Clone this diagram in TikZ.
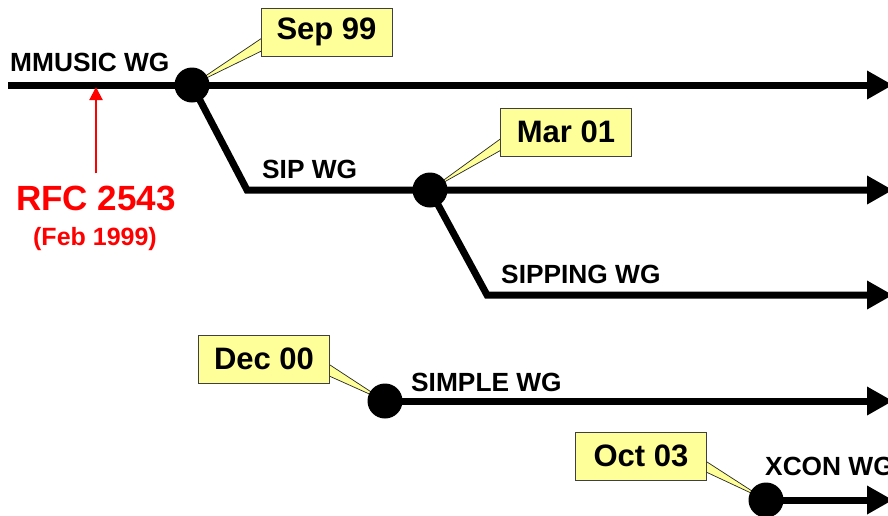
\documentclass[tikz,border=0pt]{standalone}
\usepackage{fontspec}
\setmainfont{Liberation Sans}
\usetikzlibrary{arrows.meta,calc,backgrounds}
\definecolor{callfill}{HTML}{FFFF99}
\tikzset{
  x=1pt, y=-1pt,
  wg/.style={line width=7pt, line join=miter, -{Triangle[length=26pt,width=27pt]}},
  dot/.style={circle, fill=black, minimum size=35pt, inner sep=0pt},
  datebox/.style={draw=black!75, line width=0.9pt, fill=callfill, minimum width=131pt, minimum height=48pt, inner sep=0pt, font=\fontsize{31}{36}\selectfont\bfseries},
  wedge/.style={draw=black!85, line width=0.7pt, fill=callfill, line join=miter},
  lbl/.style={anchor=base west, inner sep=0pt, font=\fontsize{26.3}{31}\selectfont\bfseries},
}
\begin{document}
\begin{tikzpicture}
\useasboundingbox (0,0) rectangle (888,515);
% dots
\node[dot] (n1) at (192,85) {};
\node[dot] (n2) at (430,190) {};
\node[dot] (n3) at (385,401) {};
\node[dot] (n4) at (766,500) {};
% coordinates
\coordinate (m0) at (8,85);
\coordinate (a1) at (893,85);
\coordinate (c1) at (247,190);
\coordinate (a2) at (893,190);
\coordinate (c2) at (487,295);
\coordinate (a3) at (893,295);
\coordinate (a4) at (893,401);
\coordinate (a5) at (893,500);
% boxes
\node[datebox] (b1) at (326.5,32) {Sep 99};
\node[datebox] (b2) at (566,132) {Mar 01};
\node[datebox] (b3) at (264,359) {Dec 00};
\node[datebox] (b4) at (641,456) {Oct 03};
\begin{pgfonlayer}{background}
\draw[wg] (m0) -- (a1);
\draw[wg] (n1.center) -- (c1) -- (a2);
\draw[wg] (n2.center) -- (c2) -- (a3);
\draw[wg] (n3.center) -- (a4);
\draw[wg] (n4.center) -- (a5);
\draw[wedge] ($(b1.west)+(3,5)$) -- (n1.center) -- ($(b1.west)+(3,18)$) -- cycle;
\draw[wedge] ($(b2.west)+(3,5)$) -- (n2.center) -- ($(b2.west)+(3,17)$) -- cycle;
\draw[wedge] ($(b3.east)+(-3,4)$) -- (n3.center) -- ($(b3.east)+(-3,16)$) -- cycle;
\draw[wedge] ($(b4.east)+(-3,4)$) -- (n4.center) -- ($(b4.east)+(-3,15)$) -- cycle;
\end{pgfonlayer}
% labels
\node[lbl] (l1) at (10,71) {MMUSIC WG};
\node[lbl] (l2) at (262,178) {SIP WG};
\node[lbl] (l3) at (501,283) {SIPPING WG};
\node[lbl] (l4) at (411,391) {SIMPLE WG};
\node[lbl] (l5) at (765,475) {XCON WG};
% RFC
\node[anchor=base, inner sep=0pt, text=red, font=\fontsize{35}{40}\selectfont\bfseries] (rfc) at (96,210) {RFC 2543};
\node[anchor=base, inner sep=0pt, text=red, font=\fontsize{25}{30}\selectfont\bfseries] (feb) at (95,245) {(Feb 1999)};
\coordinate (r1) at (96,87);
\draw[red, line width=2pt, -{Triangle[length=13pt,width=13pt]}] ($(rfc.north)+(0,-12)$) -- (r1);
\end{tikzpicture}
\end{document}
